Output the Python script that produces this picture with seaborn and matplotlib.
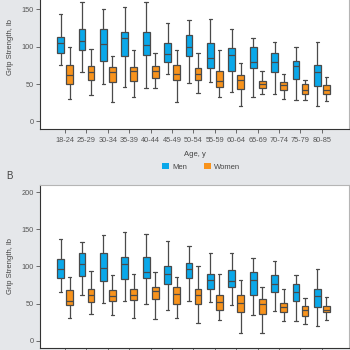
import pandas as pd
import seaborn as sns
import matplotlib.pyplot as plt
from matplotlib.patches import Patch

# age groups and the two series
ages = ["18-24", "25-29", "30-34", "35-39", "40-44", "45-49", "50-54",
        "55-59", "60-64", "65-69", "70-74", "75-79", "80-85"]
sexes = ["Men", "Women"]

# box stats per age group: (lower whisker, Q1, median, Q3, upper whisker), lb
# panel A
a_men = [(76, 91, 105, 113, 144), (66, 95, 108, 124, 160), (50, 81, 103, 124, 150),
         (46, 87, 111, 119, 153), (45, 89, 102, 119, 160), (63, 79, 90, 105, 132),
         (51, 87, 99, 116, 136), (53, 72, 85, 105, 137), (39, 68, 89, 98, 124),
         (32, 71, 80, 100, 112), (36, 66, 80, 91, 106), (29, 57, 74, 81, 100),
         (20, 47, 66, 76, 106)]
a_women = [(30, 50, 62, 75, 99), (35, 55, 66, 74, 97), (26, 53, 66, 73, 87),
           (32, 54, 67, 73, 95), (45, 58, 67, 74, 91), (26, 55, 64, 76, 95),
           (38, 55, 63, 72, 92), (33, 46, 54, 67, 95), (21, 43, 55, 62, 78),
           (37, 45, 50, 54, 68), (30, 42, 48, 53, 63), (28, 36, 42, 50, 56),
           (27, 36, 42, 48, 60)]
# panel B
b_men = [(66, 84, 97, 110, 137), (61, 87, 103, 118, 133), (51, 81, 98, 118, 142),
         (54, 83, 103, 113, 146), (49, 85, 93, 113, 144), (41, 76, 90, 101, 135),
         (54, 84, 97, 105, 127), (52, 69, 82, 90, 118), (48, 73, 81, 95, 118),
         (35, 62, 82, 93, 111), (40, 66, 76, 88, 107), (27, 54, 66, 77, 89),
         (20, 45, 60, 70, 97)]
b_women = [(31, 48, 54, 68, 86), (36, 52, 61, 69, 94), (34, 53, 60, 68, 88),
           (31, 55, 61, 70, 90), (29, 56, 67, 73, 93), (30, 50, 63, 73, 86),
           (24, 49, 62, 69, 100), (28, 41, 52, 62, 90), (11, 39, 51, 62, 82),
           (11, 36, 49, 56, 72), (26, 38, 45, 51, 70), (23, 33, 41, 47, 57),
           (28, 38, 42, 47, 59)]

colors = {"Men": "#0aa8ea", "Women": "#f8931c"}
bg = "#e5e7ea"


def long_table(men, women):
    # five points per box reproduce exactly the quartiles and the whisker ends
    rows = []
    for sex, stats in (("Men", men), ("Women", women)):
        for age, s in zip(ages, stats):
            for v in s:
                rows.append({"age": age, "sex": sex, "grip": v})
    return pd.DataFrame(rows)


sns.set_style("white")
plt.rcParams['font.family'] = ['Liberation Sans', 'DejaVu Sans']

fig = plt.figure(figsize=(3.5, 3.5), dpi=100, facecolor=bg)
ax_a = fig.add_axes([0.1143, 0.632, 0.8829, 0.4693])
ax_b = fig.add_axes([0.1143, 0.0054, 0.8829, 0.4664])

for ax, men, women in ((ax_a, a_men, a_women), (ax_b, b_men, b_women)):
    df = long_table(men, women)
    sns.boxplot(data=df, x="age", y="grip", hue="sex", hue_order=sexes,
                order=ages, palette=colors, saturation=1, width=0.84, gap=0.25,
                whis=(0, 100), linecolor="#4a4a4a", linewidth=0.9,
                legend=False, ax=ax)
    ax.set_facecolor("white")
    ax.set_xlim(-1.17, 13.27)
    ax.set_ylim(-10, 210)
    ax.set_ylabel("Grip Strength, lb", fontsize=5.5, color="#444", labelpad=5)
    ax.set_xlabel("")
    ax.tick_params(axis="both", labelsize=5.3, colors="#555", length=3,
                   width=0.6, pad=1.5, left=True, bottom=True)
    for side in ("left", "bottom"):
        ax.spines[side].set_color("#333")
        ax.spines[side].set_linewidth(0.8)
    for side in ("top", "right"):
        ax.spines[side].set_color("#b5b5b5")
        ax.spines[side].set_linewidth(0.8)

# panel A's top lies above the visible area, so its 200 tick is not shown
ax_a.set_yticks([0, 50, 100, 150])
ax_b.set_yticks([0, 50, 100, 150, 200])

ax_a.tick_params(axis="x", pad=3)
ax_a.set_xlabel("Age, y", fontsize=5.5, color="#444", labelpad=5)
# panel B's age labels lie below the visible area
ax_b.tick_params(axis="x", labelbottom=False)

handles = [Patch(facecolor=colors[s], edgecolor="none", label=s) for s in sexes]
fig.legend(handles=handles, loc="center", bbox_to_anchor=(0.575, 0.523),
           ncol=2, frameon=False, fontsize=5.5, handlelength=0.9,
           handleheight=0.9, handletextpad=0.4, columnspacing=2.2,
           labelcolor="#444")

fig.text(0.018, 0.497, "B", fontsize=7, color="#444", va="center")

fig.savefig("out.png", dpi=100, facecolor=bg)
